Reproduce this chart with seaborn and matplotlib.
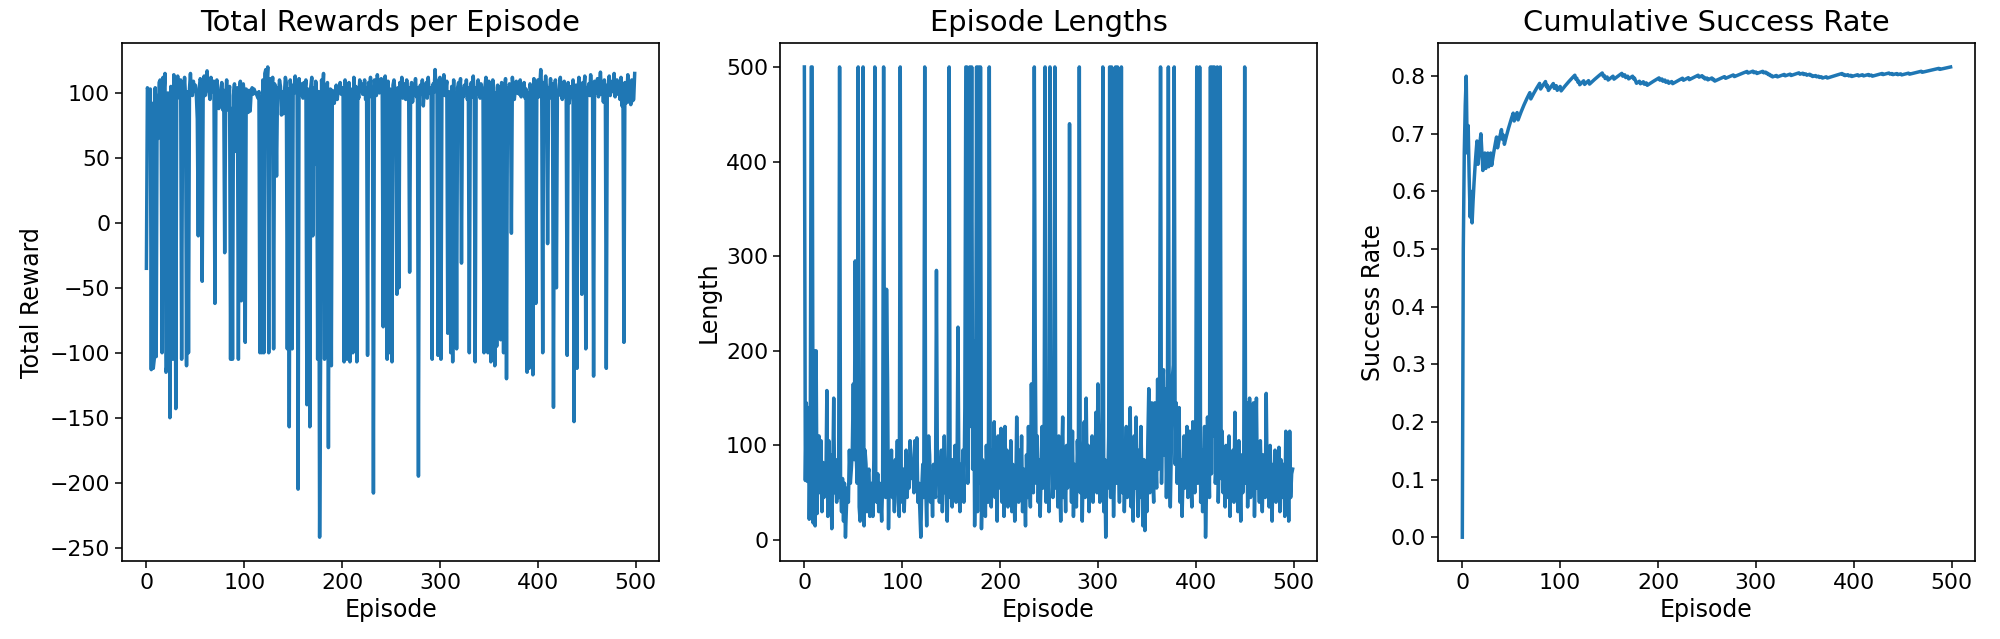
import numpy as np
import pandas as pd
import seaborn as sns
import matplotlib
matplotlib.use("Agg")
import matplotlib.pyplot as plt

# total reward per episode, in blocks of 100 episodes
rewards_000 = [
    -35, 104, 101, 96, 103, -113, 92, -112, -105, 104,
    -103, 98, 65, 108, 110, 95, -100, 112, 101, 115,
    -115, -110, 100, 97, -150, 105, 99, -105, 114, 102,
    -143, 108, 113, 100, 96, 110, -105, 104, 99, 112,
    97, -110, 101, -100, 103, 115, 100, 98, 109, 102,
    106, 99, 80, -10, 104, 111, 108, -45, 100, 113,
    98, 110, 117, 103, 100, 95, 112, 107, 101, 109,
    -62, 96, 110, 104, 88, 99, 93, 108, 87, 102,
    -23, 95, 110, 87, 100, 105, -105, 88, -105, 98,
    107, 55, 93, 104, -105, 100, 109, -60, 101, 107,
]
rewards_100 = [
    98, -92, 103, 100, 85, 102, 86, 100, 104, 99,
    103, 101, 100, 98, 96, 101, -100, 97, -100, 110,
    -100, 115, 118, 106, 120, -100, 111, 104, 99, 112,
    -97, 107, 103, 36, 104, 98, 110, 105, 83, 101,
    84, 99, 112, 108, -97, 103, -157, 110, 100, -97,
    106, 100, 113, 104, 98, -205, 111, 102, 107, 99,
    96, 108, 101, 110, -140, 103, 99, -157, 105, 112,
    -10, 104, 45, 109, 100, -105, 101, -242, -105, 110,
    98, 115, -105, 104, 100, 108, -173, 96, 103, -110,
    102, 99, 92, 100, 106, 95, 103, 101, 108, 99,
]
rewards_200 = [
    104, 97, -107, 110, 101, -105, 99, 108, -107, 103,
    100, -100, 112, 98, 105, -107, 101, 96, 110, 103,
    107, 99, 102, 110, 95, 104, -102, 108, 100, 112,
    97, 103, -208, 110, 101, 98, 114, 105, 100, 107,
    111, 99, -80, 104, 113, 100, -105, 109, -100, 103,
    98, -107, 106, 110, 101, 97, -55, 104, -50, 108,
    100, 112, 96, 103, 107, 95, 110, 99, 104, -38,
    101, 108, 93, 105, 100, 111, 97, 104, -195, 102,
    106, 99, 110, 90, 103, 101, 108, 96, 112, 100,
    104, 98, -105, 107, 101, 118, 103, 99, -102, 110,
]
rewards_300 = [
    112, -105, 100, 106, 114, 98, 103, 109, -85, 101,
    96, -100, 105, -107, 110, -95, 100, -97, 104, 108,
    99, 111, -31, 103, 97, 106, 100, 110, 95, 104,
    -100, 101, 108, 97, 113, 100, -107, 104, 99, 110,
    103, 96, 107, 101, 98, -100, 105, 112, 100, -100,
    109, 102, -107, 98, 110, 104, -110, 100, -95, 106,
    101, 97, -90, 108, 103, -100, 99, 111, -120, 104,
    96, 107, 100, -8, 112, 101, 95, 103, 109, 100,
    106, 99, 110, 97, 104, 101, 108, 96, 103, -115,
    100, -112, 107, 102, 98, -117, 111, 104, -62, 103,
]
rewards_400 = [
    110, 97, 105, 118, 101, -100, 108, 99, 113, 102,
    -16, 104, 100, 111, 96, 107, -142, 103, 110, -50,
    101, 98, 106, 112, 100, 95, 104, 109, 97, 103,
    -102, 108, 92, 100, 105, 97, 110, -153, 101, 106,
    -112, 99, 112, 103, 96, -55, 108, 101, 113, -97,
    104, 100, 107, 98, 114, 102, 96, -118, 109, 103,
    100, 111, 97, 105, 116, 99, 108, 93, 110, 102,
    -112, 106, 100, 113, 98, 104, 109, 101, 115, 97,
    103, 110, 99, 106, 95, 112, 90, 104, -92, 108,
    92, 100, 114, 93, 107, 91, 110, 94, 95, 115,
]

# episode length (500 = time limit reached)
lengths_000 = [
    500, 63, 145, 62, 140, 22, 90, 500, 500, 18,
    200, 15, 200, 28, 95, 110, 50, 105, 30, 82,
    45, 70, 60, 158, 25, 105, 55, 90, 12, 65,
    150, 50, 85, 40, 75, 45, 500, 55, 30, 65,
    20, 60, 3, 35, 55, 40, 95, 60, 75, 95,
    165, 85, 295, 90, 60, 500, 35, 20, 90, 60,
    500, 15, 95, 80, 30, 70, 75, 25, 45, 60,
    25, 85, 500, 55, 40, 70, 30, 60, 45, 20,
    60, 500, 90, 45, 265, 170, 12, 80, 50, 95,
    45, 70, 30, 85, 60, 105, 40, 25, 500, 65,
]
lengths_100 = [
    40, 75, 30, 60, 95, 45, 70, 55, 105, 90,
    65, 80, 50, 105, 70, 108, 40, 60, 30, 3,
    55, 80, 45, 500, 60, 15, 75, 110, 90, 40,
    65, 25, 80, 55, 45, 285, 60, 85, 40, 70,
    95, 30, 60, 110, 50, 75, 20, 90, 500, 45,
    65, 35, 85, 60, 100, 40, 70, 225, 55, 30,
    80, 50, 95, 40, 140, 500, 500, 60, 180, 500,
    120, 500, 75, 210, 15, 90, 500, 30, 500, 60,
    500, 12, 85, 45, 70, 25, 100, 55, 40, 500,
    70, 35, 95, 60, 125, 45, 80, 20, 110, 65,
]
lengths_200 = [
    55, 118, 40, 85, 25, 120, 60, 95, 35, 75,
    50, 105, 30, 80, 65, 20, 45, 130, 70, 40,
    95, 55, 110, 30, 75, 60, 15, 90, 45, 120,
    65, 35, 165, 80, 50, 500, 195, 60, 110, 40,
    85, 25, 75, 120, 55, 90, 500, 40, 100, 65,
    30, 500, 80, 115, 45, 70, 500, 55, 95, 35,
    110, 60, 20, 85, 130, 45, 75, 30, 100, 55,
    65, 440, 90, 40, 115, 25, 80, 60, 35, 105,
    70, 500, 50, 95, 20, 85, 125, 45, 150, 60,
    100, 30, 75, 55, 110, 40, 85, 65, 135, 50,
]
lengths_300 = [
    165, 90, 40, 120, 60, 500, 30, 85, 3, 70,
    55, 110, 500, 45, 500, 95, 25, 75, 500, 60,
    500, 85, 40, 130, 500, 50, 105, 30, 75, 120,
    45, 90, 60, 140, 35, 80, 20, 110, 55, 130,
    70, 25, 95, 45, 120, 60, 15, 85, 10, 75,
    30, 105, 160, 50, 85, 145, 65, 40, 145, 90,
    55, 170, 75, 130, 500, 60, 155, 180, 90, 160,
    45, 120, 500, 70, 35, 95, 170, 185, 500, 80,
    145, 60, 100, 140, 40, 85, 25, 70, 110, 55,
    90, 120, 45, 75, 115, 60, 35, 125, 80, 50,
]
lengths_400 = [
    110, 500, 60, 85, 500, 40, 95, 30, 75, 120,
    3, 55, 130, 90, 45, 500, 70, 500, 110, 500,
    60, 85, 500, 40, 95, 500, 65, 115, 50, 80,
    35, 100, 70, 45, 110, 25, 85, 60, 95, 40,
    135, 55, 80, 30, 105, 65, 20, 90, 50, 75,
    500, 60, 145, 35, 85, 150, 45, 110, 70, 145,
    25, 95, 150, 55, 80, 40, 105, 65, 30, 90,
    70, 45, 155, 60, 85, 35, 100, 55, 20, 80,
    60, 95, 40, 75, 50, 98, 30, 85, 65, 45,
    80, 25, 115, 55, 90, 20, 115, 45, 70, 75,
]

rewards = rewards_000 + rewards_100 + rewards_200 + rewards_300 + rewards_400
lengths = lengths_000 + lengths_100 + lengths_200 + lengths_300 + lengths_400

df = pd.DataFrame({"Episode": np.arange(len(rewards)),
                   "Total Reward": rewards,
                   "Length": lengths})
# an episode counts as a success when its reward is positive
df["Success"] = (df["Total Reward"] > 0).astype(int)
df["Success Rate"] = df["Success"].cumsum() / (df["Episode"] + 1)

color = "#1f77b4"
fig, axes = plt.subplots(1, 3, figsize=(20, 6.39), dpi=100)
plt.subplots_adjust(left=0.061, right=0.9875, bottom=0.1225, top=0.932, wspace=0.225)

panels = [("Total Reward", "Total Rewards per Episode", "Total Reward"),
          ("Length", "Episode Lengths", "Length"),
          ("Success Rate", "Cumulative Success Rate", "Success Rate")]

for ax, (col, title, ylabel) in zip(axes, panels):
    sns.lineplot(data=df, x="Episode", y=col, ax=ax, color=color,
                 linewidth=2.5, estimator=None, errorbar=None)
    ax.set_title(title, fontsize=20.8, pad=9)
    ax.set_xlabel("Episode", fontsize=17)
    ax.set_ylabel(ylabel, fontsize=17)
    ax.tick_params(labelsize=15.8, length=5, width=1.1)
    ax.set_xticks([0, 100, 200, 300, 400, 500])
    for s in ax.spines.values():
        s.set_linewidth(1.2)

axes[0].set_yticks(np.arange(-250, 101, 50))
axes[1].set_yticks(np.arange(0, 501, 100))
axes[2].set_yticks(np.round(np.arange(0, 0.81, 0.1), 1))

fig.savefig("out.png", dpi=100)
